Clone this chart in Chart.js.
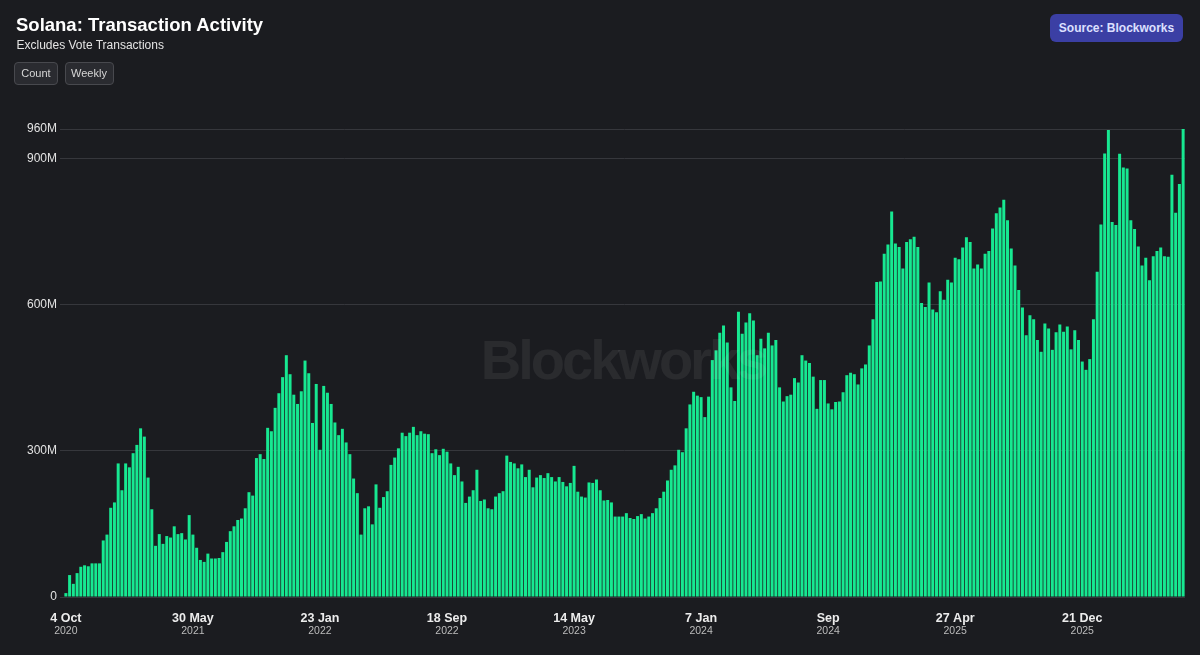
<!DOCTYPE html>
<html>
<head>
<meta charset="utf-8">
<script src="https://cdn.jsdelivr.net/npm/chart.js@4.4.0/dist/chart.umd.min.js"></script>
<style>
  html, body { margin: 0; padding: 0; background: #1b1c20; }
  #wrap { position: relative; width: 1200px; height: 655px; overflow: hidden; background: #1b1c20; font-family: "Liberation Sans", Arial, sans-serif; }
  #c { position: absolute; left: 0; top: 0; }
  .title { position: absolute; left: 16px; top: 16px; font-size: 18.5px; line-height: 18.5px; font-weight: bold; color: #ffffff; white-space: nowrap; }
  .subtitle { position: absolute; left: 16.5px; top: 39px; font-size: 12px; line-height: 12px; color: #e4e4e4; white-space: nowrap; }
  .btn { position: absolute; top: 62px; height: 21px; border: 1px solid #48494e; border-radius: 4px; background: #2a2b30; color: #d6d6d6; font-size: 11px; line-height: 21px; text-align: center; box-sizing: content-box; }
  .source { position: absolute; left: 1050px; top: 14px; width: 133px; height: 28px; border-radius: 6px; background: #3b3fa4; color: #dde0ff; font-size: 12px; font-weight: bold; line-height: 28px; text-align: center; }
</style>
</head>
<body>
<div id="wrap">
  <canvas id="c" width="1200" height="655"></canvas>
  <div class="title">Solana: Transaction Activity</div>
  <div class="subtitle">Excludes Vote Transactions</div>
  <div class="btn" style="left:14px;width:42px;">Count</div>
  <div class="btn" style="left:64.5px;width:47px;">Weekly</div>
  <div class="source">Source: Blockworks</div>
</div>
<script>
// Weekly non-vote transaction count, millions (week starting 4 Oct 2020)
const startDate = '2020-10-04';
const txCountM = [
  8, 45, 27, 49, 62, 65, 63, 69, 69, 69, 116, 128, 183, 194, 274, 219, 274, 266, 295, 312,
  346, 329, 245, 180, 105, 129, 109, 125, 122, 145, 129, 131, 118, 168, 128, 101, 76, 72, 89, 79,
  79, 80, 92, 113, 135, 145, 158, 161, 182, 215, 208, 285, 293, 283, 347, 340, 388, 418, 451, 496,
  457, 415, 396, 422, 485, 459, 357, 437, 302, 433, 419, 396, 358, 332, 345, 317, 293, 243, 213, 128,
  182, 186, 149, 231, 183, 205, 217, 271, 286, 305, 337, 330, 337, 349, 332, 340, 335, 334, 295, 303,
  291, 304, 298, 274, 250, 267, 237, 193, 206, 219, 261, 197, 200, 182, 180, 206, 213, 217, 290, 277,
  274, 264, 272, 246, 261, 225, 245, 250, 244, 254, 246, 237, 246, 236, 227, 234, 269, 216, 206, 204,
  235, 234, 241, 219, 198, 199, 194, 165, 165, 165, 172, 162, 160, 166, 170, 161, 165, 172, 182, 203,
  216, 239, 261, 270, 302, 297, 346, 395, 421, 413, 410, 369, 411, 486, 506, 542, 557, 522, 430, 402,
  585, 540, 563, 582, 567, 496, 530, 510, 542, 516, 527, 430, 401, 412, 415, 449, 440, 496, 485, 480,
  452, 386, 445, 445, 397, 385, 400, 401, 420, 455, 460, 457, 436, 469, 477, 516, 570, 646, 647, 704,
  723, 791, 725, 718, 674, 728, 734, 739, 718, 603, 595, 645, 590, 584, 627, 610, 651, 645, 696, 693,
  717, 738, 728, 674, 682, 674, 704, 710, 756, 787, 799, 815, 773, 715, 680, 630, 594, 537, 578, 570,
  527, 503, 561, 551, 507, 543, 559, 544, 555, 508, 547, 527, 483, 466, 488, 570, 667, 764, 910, 958,
  769, 763, 909, 881, 879, 773, 755, 719, 680, 696, 650, 699, 710, 717, 699, 698, 866, 788, 847, 960
];
// x-axis tick labels (every 34 weeks)
const tickIndex = [0, 34, 68, 102, 136, 170, 204, 238, 272];
const tickDay   = ['4 Oct', '30 May', '23 Jan', '18 Sep', '14 May', '7 Jan', 'Sep', '27 Apr', '21 Dec'];
const tickYear  = ['2020', '2021', '2022', '2022', '2023', '2024', '2024', '2025', '2025'];
// y-axis ticks (millions)
const yTicks = [0, 300, 600, 900, 960];

// weekly category labels
const weeks = [];
{
  const d0 = new Date(startDate + 'T00:00:00Z');
  for (let i = 0; i < txCountM.length; i++) {
    const d = new Date(d0.getTime() + i * 7 * 86400000);
    weeks.push(d.toISOString().slice(0, 10));
  }
}

const xLabelsPlugin = {
  id: 'xLabels',
  afterDraw(chart) {
    const ctx = chart.ctx;
    const xs = chart.scales.x;
    ctx.save();
    ctx.textAlign = 'center';
    ctx.textBaseline = 'alphabetic';
    tickIndex.forEach((idx, k) => {
      const x = xs.getPixelForValue(idx);
      ctx.font = 'bold 12.5px "Liberation Sans", Arial, sans-serif';
      ctx.fillStyle = '#ececec';
      ctx.fillText(tickDay[k], x, 621.5);
      ctx.font = '10.5px "Liberation Sans", Arial, sans-serif';
      ctx.fillStyle = '#bdbdbd';
      ctx.fillText(tickYear[k], x, 634);
    });
    ctx.restore();
  }
};

const watermarkPlugin = {
  id: 'watermark',
  afterDatasetsDraw(chart) {
    const ctx = chart.ctx;
    ctx.save();
    ctx.font = 'bold 56px "Liberation Sans", Arial, sans-serif';
    if ('letterSpacing' in ctx) ctx.letterSpacing = '-3px';
    ctx.textAlign = 'center';
    ctx.textBaseline = 'alphabetic';
    ctx.fillStyle = 'rgba(255,255,255,0.065)';
    ctx.fillText('Blockworks', 623, 379);
    ctx.restore();
  }
};

new Chart(document.getElementById('c'), {
  type: 'bar',
  data: {
    labels: weeks,
    datasets: [{
      data: txCountM,
      backgroundColor: '#17e891',
      borderWidth: 0,
      barPercentage: 0.8,
      categoryPercentage: 1.0
    }]
  },
  options: {
    responsive: false,
    animation: false,
    devicePixelRatio: 1,
    layout: { padding: { top: 129, right: 15, bottom: 58, left: 0 } },
    plugins: { legend: { display: false }, tooltip: { enabled: false } },
    scales: {
      x: {
        display: false,
        offset: true,
        grid: { display: false }
      },
      y: {
        min: 0,
        max: 960,
        afterBuildTicks: (axis) => { axis.ticks = yTicks.map(v => ({ value: v })); },
        afterFit: (axis) => { axis.width = 64; },
        border: { display: false },
        grid: { color: '#36373c', lineWidth: 1, drawTicks: true, tickLength: 4, tickColor: '#36373c' },
        ticks: {
          color: '#e2e2e2',
          padding: 3,
          font: { family: '"Liberation Sans", Arial, sans-serif', size: 12 },
          callback: (v) => v === 0 ? '0' : v + 'M'
        }
      }
    }
  },
  plugins: [xLabelsPlugin, watermarkPlugin]
});
</script>
</body>
</html>
